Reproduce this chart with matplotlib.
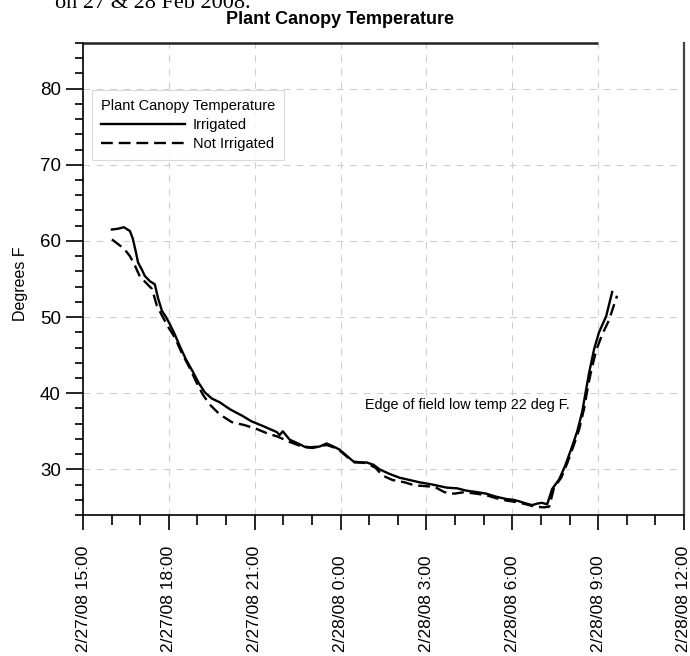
import matplotlib
matplotlib.use('Agg')
import matplotlib.pyplot as plt
import matplotlib.dates as mdates
from matplotlib.ticker import MultipleLocator, FuncFormatter
from datetime import datetime, timedelta

plt.rcParams['font.family'] = ['Liberation Sans', 'DejaVu Sans']

start = datetime(2008, 2, 27, 15, 0)

# hours after 2/27/08 15:00, and temperature (deg F)
irr_hours = [1.01, 1.22, 1.43, 1.64, 1.74, 1.85, 1.92, 2.06, 2.16, 2.34, 2.51, 2.62,
             2.76, 2.90, 3.03, 3.21, 3.38, 3.59, 3.84, 4.05, 4.26, 4.50, 4.78, 5.13,
             5.58, 5.89, 6.28, 6.52, 6.77, 6.87, 6.98, 7.22, 7.57, 7.78, 8.02, 8.27,
             8.51, 8.75, 8.96, 9.24, 9.49, 9.91, 10.15, 10.36, 10.71, 11.06, 11.41,
             11.75, 12.21, 12.70, 13.08, 13.39, 13.78, 14.09, 14.44, 14.79, 15.03,
             15.24, 15.49, 15.70, 15.87, 16.04, 16.22, 16.39, 16.64, 16.85, 17.09,
             17.27, 17.44, 17.58, 17.69, 17.86, 18.03, 18.28, 18.49]
irr_temp = [61.5, 61.6, 61.8, 61.3, 60.3, 58.5, 57.2, 56.2, 55.4, 54.7, 54.3, 52.5,
            50.8, 50.0, 49.1, 47.7, 46.2, 44.5, 42.8, 41.3, 40.1, 39.3, 38.8, 37.9,
            37.0, 36.3, 35.7, 35.3, 34.9, 34.5, 35.0, 33.9, 33.3, 32.9, 32.8, 33.0,
            33.4, 33.0, 32.6, 31.7, 30.9, 30.9, 30.6, 30.0, 29.4, 28.9, 28.6,
            28.3, 28.0, 27.6, 27.5, 27.2, 27.0, 26.8, 26.4, 26.1, 26.0,
            25.8, 25.5, 25.3, 25.5, 25.6, 25.4, 27.4, 28.7, 30.5, 33.0,
            35.0, 37.5, 40.5, 42.8, 45.8, 48.0, 50.1, 53.3]

not_hours = [1.01, 1.22, 1.43, 1.64, 1.81, 1.99, 2.20, 2.41, 2.58, 2.76, 2.96, 3.21,
             3.45, 3.73, 3.98, 4.19, 4.43, 4.78, 5.20, 5.65, 6.07, 6.45, 6.80, 6.98,
             7.22, 7.57, 7.92, 8.27, 8.51, 8.75, 8.96, 9.24, 9.49, 9.91, 10.22,
             10.46, 10.81, 11.23, 11.58, 11.93, 12.28, 12.63, 12.97, 13.32, 13.74,
             14.09, 14.44, 14.79, 15.14, 15.49, 15.77, 16.11, 16.29, 16.46, 16.71,
             16.92, 17.16, 17.34, 17.51, 17.65, 17.76, 17.93, 18.14, 18.38, 18.66]
not_temp = [60.2, 59.6, 59.0, 58.0, 56.8, 55.3, 54.5, 53.7, 51.5, 50.2, 48.8, 47.3,
            45.3, 43.3, 41.3, 39.8, 38.5, 37.2, 36.2, 35.8, 35.3, 34.7, 34.3, 34.0,
            33.6, 33.1, 32.9, 33.0, 33.2, 32.9, 32.5, 31.6, 31.0, 30.8, 30.2,
            29.2, 28.6, 28.3, 27.9, 27.8, 27.7, 27.0, 26.8, 27.0, 26.8,
            26.6, 26.2, 25.9, 25.7, 25.4, 25.1, 25.0, 25.1, 27.6, 28.9,
            30.8, 33.3, 35.3, 38.0, 41.0, 43.0, 45.6, 47.7, 49.6, 52.8]

irr_time = [start + timedelta(hours=h) for h in irr_hours]
not_time = [start + timedelta(hours=h) for h in not_hours]

fig = plt.figure(figsize=(6.9, 6.56), dpi=100)
ax = fig.add_axes([83 / 690, 1 - 515 / 656, 601 / 690, 472 / 656])

ax.plot(irr_time, irr_temp, color='black', lw=1.7, label='Irrigated')
ax.plot(not_time, not_temp, color='black', lw=1.7, dashes=(5, 2.5), label='Not Irrigated')

xmin = start
xmax = start + timedelta(hours=21)
ax.set_xlim(xmin, xmax)
ax.set_ylim(24, 86)

ax.xaxis.set_major_locator(mdates.HourLocator(byhour=range(0, 24, 3)))
ax.xaxis.set_minor_locator(mdates.HourLocator())


def fmt_date(v, pos):
    d = mdates.num2date(v)
    return f"{d.month}/{d.day}/{d.strftime('%y')} {d.hour}:{d.minute:02d}"


ax.xaxis.set_major_formatter(FuncFormatter(fmt_date))
ax.yaxis.set_major_locator(MultipleLocator(10))
ax.yaxis.set_minor_locator(MultipleLocator(2))

# labels read upward from a common baseline near the bottom edge
ax.tick_params(axis='x', which='major', length=11, width=1.2, pad=88,
               labelsize=12.5, labelrotation=90)
ax.tick_params(axis='x', which='minor', length=7, width=1.2)
ax.tick_params(axis='y', which='major', length=12, width=1.2, pad=4, labelsize=13.5)
ax.tick_params(axis='y', which='minor', length=6, width=1.2)
for lab in ax.get_xticklabels():
    lab.set_verticalalignment('bottom')

ax.grid(True, which='major', color='#cfcfcf', lw=0.8, linestyle=(0, (6, 6)))
ax.set_axisbelow(True)

for s in ['left', 'bottom']:
    ax.spines[s].set_linewidth(1.2)
ax.spines['top'].set_visible(False)
ax.spines['right'].set_color('#444444')
ax.spines['right'].set_linewidth(1.6)
ax.hlines(86, xmin, start + timedelta(hours=18), color='#222222', lw=1.8, clip_on=False)

ax.set_ylabel('Degrees F', fontsize=11.5)
ax.yaxis.set_label_coords(-(83 - 28) / 601, 0.49)

fig.text(340 / 690, 1 - 20 / 656, 'Plant Canopy Temperature', fontsize=13,
         fontweight='bold', ha='center', va='center')
fig.text(55 / 690, 1 - 3 / 656, 'on 27 & 28 Feb 2008.', fontsize=16, ha='left', va='center',
         family=['Liberation Serif', 'DejaVu Serif'])

ax.text((365 - 83) / 601, 1 - (405 - 43) / 472, 'Edge of field low temp 22 deg F.',
        transform=ax.transAxes, fontsize=10.4, va='center', ha='left')

leg = ax.legend(title='Plant Canopy Temperature', loc='upper left',
                bbox_to_anchor=(0.015, 0.90), fontsize=10.5, title_fontsize=10.5,
                alignment='left', fancybox=False, frameon=True, edgecolor='#d0d0d0',
                handlelength=5.75, handletextpad=0.55, borderpad=0.6, labelspacing=0.35,
                borderaxespad=0)
leg.get_frame().set_linewidth(0.8)

fig.savefig('out.png', dpi=100)
